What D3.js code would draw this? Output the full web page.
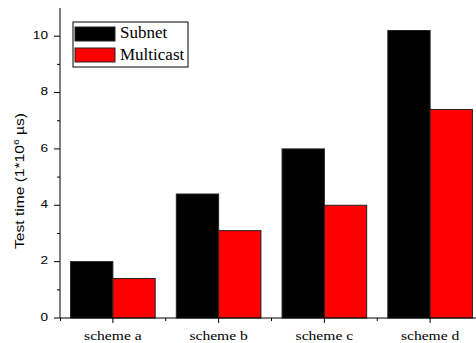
<!DOCTYPE html>
<html>
<head>
<meta charset="utf-8">
<script src="https://cdn.jsdelivr.net/npm/d3@7"></script>
<style>
  html, body { margin: 0; padding: 0; background: #fff; }
  svg { display: block; }
</style>
</head>
<body>
<div id="chart"></div>
<script>
const CATEGORIES = ["scheme a", "scheme b", "scheme c", "scheme d"];
const SERIES = ["Subnet", "Multicast"];
const SUBNET = [2.0, 4.4, 6.0, 10.2];
const MULTICAST = [1.4, 3.1, 4.0, 7.4];
const COLORS = { Subnet: "#000000", Multicast: "#ff0000" };
const Y_TICKS = [0, 2, 4, 6, 8, 10];
const Y_MINOR = [1, 3, 5, 7, 9];

const W = 476, H = 343;
const MARGIN = { top: 8, right: -7, bottom: 25, left: 60 };
const innerW = W - MARGIN.left - MARGIN.right;
const innerH = H - MARGIN.top - MARGIN.bottom;

// the source picture is stretched sideways, so text is too
const STRETCH = 1.3;

const svg = d3.select("#chart").append("svg")
  .attr("width", W)
  .attr("height", H);

const g = svg.append("g")
  .attr("transform", `translate(${MARGIN.left},${MARGIN.top})`);

const xStep = innerW / CATEGORIES.length;
const xCenter = c => CATEGORIES.indexOf(c) * xStep + xStep / 2;
const barW = xStep * 0.4;

const y = d3.scaleLinear()
  .domain([0, 11])
  .range([innerH, 0]);

const rows = CATEGORIES.map((c, i) => ({ cat: c, Subnet: SUBNET[i], Multicast: MULTICAST[i] }));

// bars
SERIES.forEach((s, si) => {
  g.append("g")
    .selectAll("rect")
    .data(rows)
    .join("rect")
    .attr("x", d => xCenter(d.cat) + (si - 1) * barW)
    .attr("y", d => y(d[s]))
    .attr("width", barW)
    .attr("height", d => innerH - y(d[s]))
    .attr("fill", COLORS[s])
    .attr("stroke", "#222")
    .attr("stroke-width", 1);
});

// y axis
const yAxisG = g.append("g");
yAxisG.append("line")
  .attr("x1", 0).attr("x2", 0)
  .attr("y1", 0).attr("y2", innerH)
  .attr("stroke", "#000").attr("stroke-width", 1);

Y_TICKS.forEach(t => {
  yAxisG.append("line")
    .attr("x1", -6).attr("x2", 0)
    .attr("y1", y(t)).attr("y2", y(t))
    .attr("stroke", "#000");
  yAxisG.append("text")
    .attr("transform", `translate(-12,${y(t)}) scale(${STRETCH},1)`)
    .attr("text-anchor", "end")
    .attr("dominant-baseline", "middle")
    .attr("font-family", "'Liberation Sans', Arial, sans-serif")
    .attr("font-size", "10.5px")
    .attr("fill", "#000")
    .text(t);
});
Y_MINOR.forEach(t => {
  yAxisG.append("line")
    .attr("x1", -3).attr("x2", 0)
    .attr("y1", y(t)).attr("y2", y(t))
    .attr("stroke", "#000");
});

// x axis
const xAxisG = g.append("g").attr("transform", `translate(0,${innerH})`);
xAxisG.append("line")
  .attr("x1", 0).attr("x2", innerW)
  .attr("stroke", "#000");

xAxisG.append("line")
  .attr("x1", 0.5).attr("x2", 0.5)
  .attr("y1", 0).attr("y2", 3)
  .attr("stroke", "#000");

CATEGORIES.forEach((c, i) => {
  xAxisG.append("line")
    .attr("x1", xCenter(c)).attr("x2", xCenter(c))
    .attr("y1", 0).attr("y2", 5)
    .attr("stroke", "#000");
  xAxisG.append("line")
    .attr("x1", (i + 1) * xStep).attr("x2", (i + 1) * xStep)
    .attr("y1", 0).attr("y2", 3)
    .attr("stroke", "#000");
  xAxisG.append("text")
    .attr("transform", `translate(${xCenter(c)},22) scale(1.2,1)`)
    .attr("text-anchor", "middle")
    .attr("font-family", "'Liberation Serif', 'Times New Roman', serif")
    .attr("font-size", "13px")
    .attr("fill", "#000")
    .text(c);
});

// y label
const yLab = svg.append("text")
  .attr("transform", `translate(24,181) rotate(-90) scale(${STRETCH},1)`)
  .attr("text-anchor", "middle")
  .attr("font-family", "'Liberation Sans', Arial, sans-serif")
  .attr("font-size", "12px")
  .attr("fill", "#000");
yLab.append("tspan").text("Test time (1*10");
yLab.append("tspan").attr("dy", -5).attr("font-size", "8px").text("6");
yLab.append("tspan").attr("dy", 5).text(" \u00b5s)");

// legend
const leg = svg.append("g").attr("transform", "translate(73,22)");
leg.append("rect")
  .attr("width", 115).attr("height", 45)
  .attr("fill", "#fff").attr("stroke", "#000").attr("stroke-width", 1);
SERIES.forEach((s, i) => {
  leg.append("rect")
    .attr("x", 2).attr("y", 5 + i * 21)
    .attr("width", 40).attr("height", 14)
    .attr("fill", COLORS[s]).attr("stroke", "#222");
  leg.append("text")
    .attr("x", 47).attr("y", 12 + i * 22)
    .attr("dominant-baseline", "middle")
    .attr("font-family", "'Liberation Serif', 'Times New Roman', serif")
    .attr("font-size", "17px")
    .attr("fill", "#000")
    .text(s);
});
</script>
</body>
</html>
